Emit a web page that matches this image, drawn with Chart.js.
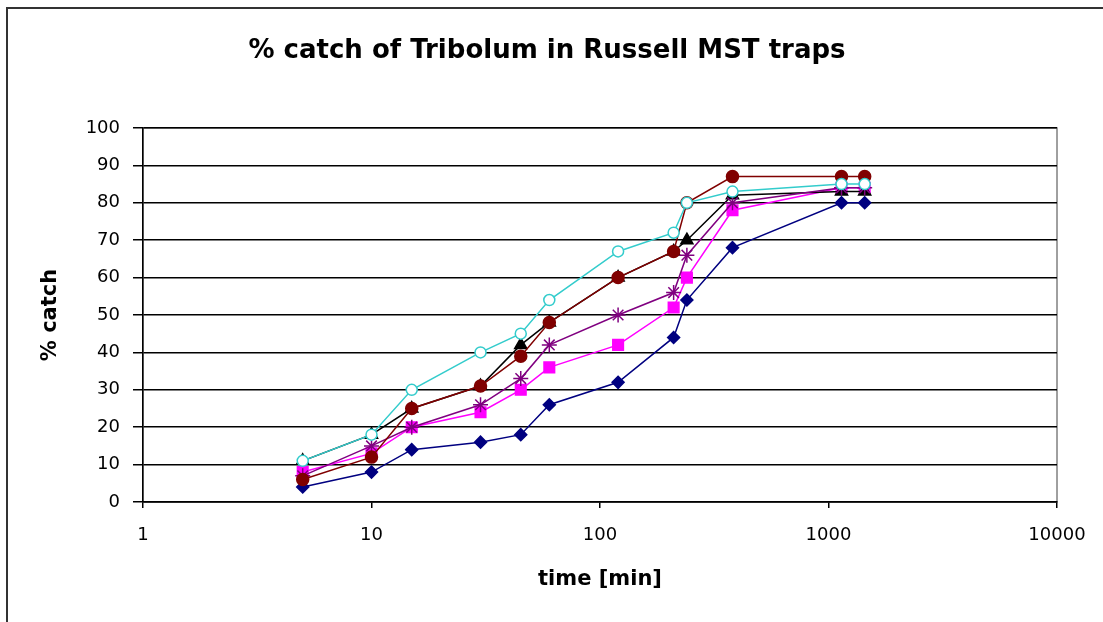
<!DOCTYPE html>
<html>
<head>
<meta charset="utf-8">
<script src="https://cdn.jsdelivr.net/npm/chart.js@4"></script>
<style>
  html, body { margin: 0; padding: 0; background: #fff; overflow: hidden; }
  #frame { position: absolute; left: 6px; top: 7px; width: 1200px; height: 700px; border: 2px solid #333; }
  #wrap { position: absolute; left: 0; top: 0; width: 1103px; height: 622px; }
</style>
</head>
<body>
<div id="frame"></div>
<div id="wrap"><canvas id="chart" width="1103" height="622"></canvas></div>
<script>
const chartTitle = '% catch of Tribolum in Russell MST traps';
const times = [5, 10, 15, 30, 45, 60, 120, 210, 240, 380, 1140, 1440];
const xTicks = [1, 10, 100, 1000, 10000];

// one array per trap series (% caught at each time)
const diamondCatch = [4, 8, 14, 16, 18, 26, 32, 44, 54, 68, 80, 80];
const squareCatch = [8, 13, 20, 24, 30, 36, 42, 52, 60, 78, 84, 84];
const triangleCatch = [11, 18, 25, 31, 42, 48, 60, 67, 70, 82, 83, 83];
const starCatch = [7, 15, 20, 26, 33, 42, 50, 56, 66, 80, 84, 84];
const circleCatch = [6, 12, 25, 31, 39, 48, 60, 67, 80, 87, 87, 87];
const openCircleCatch = [11, 18, 30, 40, 45, 54, 67, 72, 80, 83, 85, 85];

const font = 'DejaVu Sans';

function series(label, values, color, style, radius, fill) {
    return {
        label: label,
        data: times.map((t, i) => ({ x: t, y: values[i] })),
        borderColor: color,
        backgroundColor: fill || color,
        borderWidth: 1.5,
        pointStyle: style,
        pointRadius: radius,
        pointBorderColor: color,
        pointBackgroundColor: fill || color,
        pointBorderWidth: 1.5,
        tension: 0
    };
}

// listed bottom to top, reversed because chart.js paints dataset 0 last
const datasets = [
    series('Trap 1', diamondCatch, '#000080', 'rectRot', 6),
    series('Trap 2', squareCatch, '#ff00ff', 'rect', 7.5),
    series('Trap 3', triangleCatch, '#000000', 'triangle', 7),
    series('Trap 4', starCatch, '#800080', 'star', 7.5),
    series('Trap 5', circleCatch, '#800000', 'circle', 6),
    series('Trap 6', openCircleCatch, '#33cccc', 'circle', 5.5, '#ffffff')
].reverse();

const framePlugin = {
    id: 'frame',
    beforeDraw(chart) {
        const a = chart.chartArea;
        const ctx = chart.ctx;
        ctx.save();
        ctx.strokeStyle = '#808080';
        ctx.lineWidth = 1.5;
        ctx.strokeRect(a.left, a.top, a.right - a.left, a.bottom - a.top);
        ctx.restore();
    },
    afterDraw(chart) {
        const ctx = chart.ctx;
        ctx.save();
        ctx.font = 'bold 26px "' + font + '"';
        ctx.fillStyle = '#000';
        ctx.textAlign = 'center';
        ctx.textBaseline = 'middle';
        ctx.fillText(chartTitle, 547, 51);
        ctx.restore();
    }
};

const ctx = document.getElementById('chart').getContext('2d');
const chart = new Chart(ctx, {
    type: 'line',
    data: { datasets: datasets },
    plugins: [framePlugin],
    options: {
        responsive: false,
        animation: false,
        layout: { padding: { top: 128, right: 46, bottom: 0, left: 0 } },
        plugins: {
            legend: { display: false },
            tooltip: { enabled: false }
        },
        scales: {
            x: {
                type: 'logarithmic',
                min: 1,
                max: 10000,
                afterBuildTicks: s => { s.ticks = xTicks.map(v => ({ value: v })); },
                afterFit: s => { s.height = 120; },
                grid: { drawOnChartArea: false, color: '#000', lineWidth: 1.5, tickLength: 6 },
                border: { color: '#000', width: 1.5 },
                ticks: {
                    font: { family: font, size: 18 },
                    color: '#000',
                    padding: 17,
                    maxRotation: 0,
                    autoSkip: false,
                    callback: v => String(v)
                },
                title: {
                    display: true,
                    text: 'time [min]',
                    color: '#000',
                    font: { family: font, size: 21, weight: 'bold' },
                    padding: { top: 0, bottom: 30 }
                }
            },
            y: {
                min: 0,
                max: 100,
                afterFit: s => { s.width = 143; },
                grid: { color: '#000', lineWidth: 1.5, tickLength: 10 },
                border: { color: '#000', width: 1.5 },
                ticks: {
                    stepSize: 10,
                    font: { family: font, size: 18 },
                    color: '#000',
                    padding: 13
                },
                title: {
                    display: true,
                    text: '% catch',
                    color: '#000',
                    font: { family: font, size: 21, weight: 'bold' },
                    padding: { top: 38, bottom: 0 }
                }
            }
        }
    }
});
</script>
</body>
</html>
